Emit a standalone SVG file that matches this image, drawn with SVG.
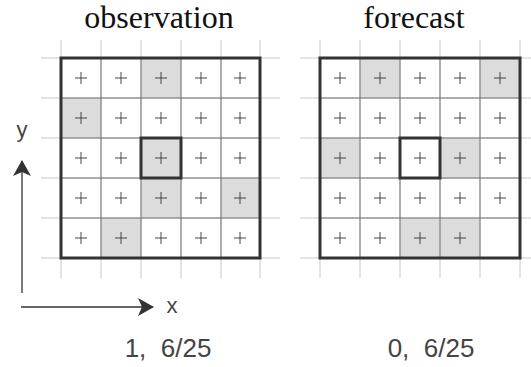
<svg xmlns="http://www.w3.org/2000/svg" width="531" height="367" viewBox="0 0 531 367">
<defs>
<style>
.title{font-family:"Liberation Serif","Times New Roman",serif;font-size:32px;fill:#111;text-anchor:middle}
.lbl{font-family:"Liberation Sans",Arial,sans-serif;font-size:26px;fill:#444;text-anchor:middle}
.ax{font-family:"Liberation Sans",Arial,sans-serif;font-size:22px;fill:#444;text-anchor:middle}
.ext{stroke:#c8c8c8;stroke-width:1;fill:none}
.inner{stroke:#777;stroke-width:1;fill:none}
.box{stroke:#333;stroke-width:3;fill:none}
.g{fill:#dcdcdc}
.axis{stroke:#333;stroke-width:1.3;fill:none}
</style>
<path id="plus" d="M-6,0H6M0,-6V6" stroke="#444" stroke-width="1" fill="none"/>
<marker id="ah" viewBox="0 0 16 18" refX="15" refY="9" markerWidth="16" markerHeight="18" markerUnits="userSpaceOnUse" orient="auto">
<path d="M0,0L16,9L0,18L4,9Z" fill="#333"/>
</marker>
</defs>
<rect width="531" height="367" fill="#fff"/>

<g id="observation">
<text class="title" x="159" y="28">observation</text>
<g class="g">
<rect x="141" y="58" width="40" height="40"/>
<rect x="61" y="98" width="40" height="40"/>
<rect x="141" y="138" width="40" height="40"/>
<rect x="141" y="178" width="40" height="40"/>
<rect x="221" y="178" width="39" height="40"/>
<rect x="101" y="218" width="40" height="40"/>
</g>
<path class="ext" d="M61,40V278M101,40V278M141,40V278M181,40V278M221,40V278M260,40V278M41,58H280M41,98H280M41,138H280M41,178H280M41,218H280M41,258H280"/>
<path class="inner" d="M101,58V258M141,58V258M181,58V258M221,58V258M61,98H260M61,138H260M61,178H260M61,218H260"/>
<rect class="box" x="61" y="58" width="199" height="200"/>
<rect class="box" x="141" y="138" width="40" height="40"/>
<g>
<use href="#plus" x="81" y="78"/><use href="#plus" x="121" y="78"/><use href="#plus" x="161" y="78"/><use href="#plus" x="201" y="78"/><use href="#plus" x="240" y="78"/>
<use href="#plus" x="81" y="118"/><use href="#plus" x="121" y="118"/><use href="#plus" x="161" y="118"/><use href="#plus" x="201" y="118"/><use href="#plus" x="240" y="118"/>
<use href="#plus" x="81" y="158"/><use href="#plus" x="121" y="158"/><use href="#plus" x="161" y="158"/><use href="#plus" x="201" y="158"/><use href="#plus" x="240" y="158"/>
<use href="#plus" x="81" y="198"/><use href="#plus" x="121" y="198"/><use href="#plus" x="161" y="198"/><use href="#plus" x="201" y="198"/><use href="#plus" x="240" y="198"/>
<use href="#plus" x="81" y="238"/><use href="#plus" x="121" y="238"/><use href="#plus" x="161" y="238"/><use href="#plus" x="201" y="238"/><use href="#plus" x="240" y="238"/>
</g>
<text class="lbl" x="168" y="357" xml:space="preserve">1,  6/25</text>
</g>

<g id="forecast">
<text class="title" x="414" y="28">forecast</text>
<g class="g">
<rect x="360" y="58" width="40" height="40"/>
<rect x="480" y="58" width="40" height="40"/>
<rect x="320" y="138" width="40" height="40"/>
<rect x="440" y="138" width="40" height="40"/>
<rect x="400" y="218" width="40" height="40"/>
<rect x="440" y="218" width="40" height="40"/>
</g>
<path class="ext" d="M320,40V278M360,40V278M400,40V278M440,40V278M480,40V278M520,40V278M300,58H531M300,98H531M300,138H531M300,178H531M300,218H531M300,258H531"/>
<path class="inner" d="M360,58V258M400,58V258M440,58V258M480,58V258M320,98H520M320,138H520M320,178H520M320,218H520"/>
<rect class="box" x="320" y="58" width="200" height="200"/>
<rect class="box" x="400" y="138" width="40" height="40"/>
<g>
<use href="#plus" x="340" y="78"/><use href="#plus" x="380" y="78"/><use href="#plus" x="420" y="78"/><use href="#plus" x="460" y="78"/><use href="#plus" x="500" y="78"/>
<use href="#plus" x="340" y="118"/><use href="#plus" x="380" y="118"/><use href="#plus" x="420" y="118"/><use href="#plus" x="460" y="118"/><use href="#plus" x="500" y="118"/>
<use href="#plus" x="340" y="158"/><use href="#plus" x="380" y="158"/><use href="#plus" x="420" y="158"/><use href="#plus" x="460" y="158"/><use href="#plus" x="500" y="158"/>
<use href="#plus" x="340" y="198"/><use href="#plus" x="380" y="198"/><use href="#plus" x="420" y="198"/><use href="#plus" x="460" y="198"/><use href="#plus" x="500" y="198"/>
<use href="#plus" x="340" y="238"/><use href="#plus" x="380" y="238"/><use href="#plus" x="420" y="238"/><use href="#plus" x="460" y="238"/>
</g>
<text class="lbl" x="431" y="357" xml:space="preserve">0,  6/25</text>
</g>

<g id="connectors">
<line class="axis" x1="22" y1="293" x2="22" y2="161" marker-end="url(#ah)"/>
<line class="axis" x1="21" y1="307" x2="153" y2="307" marker-end="url(#ah)"/>
</g>
<text class="ax" x="22" y="137">y</text>
<text class="ax" x="172" y="313">x</text>
</svg>
